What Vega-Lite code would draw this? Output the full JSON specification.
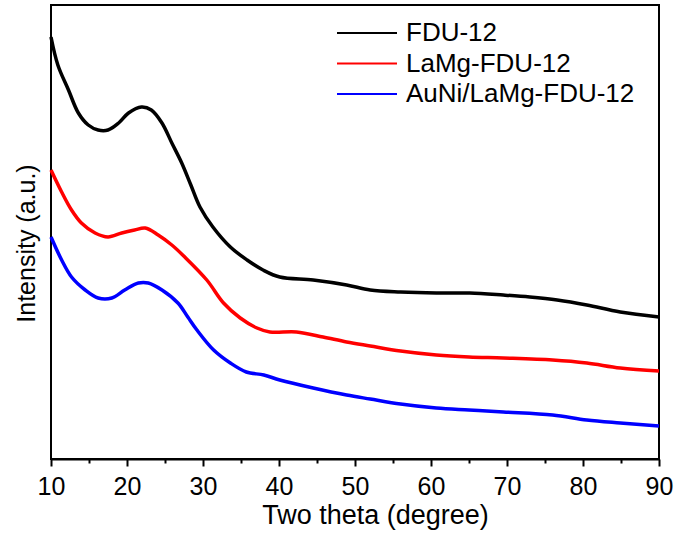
{
  "$schema": "https://vega.github.io/schema/vega-lite/v6.json",
  "width": 608,
  "height": 454,
  "autosize": {"type": "none"},
  "padding": {"left": 51, "top": 5, "right": 17, "bottom": 78},
  "background": "white",
  "config": {
    "view": {"stroke": "black", "strokeWidth": 2},
    "font": "Liberation Sans"
  },
  "data": {
    "values": [
      {"s": "FDU-12", "x": 10.0, "y": 422}, {"s": "FDU-12", "x": 10.9, "y": 394}, {"s": "FDU-12", "x": 12.3, "y": 369},
      {"s": "FDU-12", "x": 13.6, "y": 346}, {"s": "FDU-12", "x": 14.9, "y": 334}, {"s": "FDU-12", "x": 16.2, "y": 329},
      {"s": "FDU-12", "x": 17.5, "y": 329}, {"s": "FDU-12", "x": 18.9, "y": 336}, {"s": "FDU-12", "x": 20.2, "y": 346},
      {"s": "FDU-12", "x": 21.9, "y": 352}, {"s": "FDU-12", "x": 23.2, "y": 349}, {"s": "FDU-12", "x": 24.6, "y": 336},
      {"s": "FDU-12", "x": 25.9, "y": 316}, {"s": "FDU-12", "x": 27.2, "y": 296}, {"s": "FDU-12", "x": 28.4, "y": 274},
      {"s": "FDU-12", "x": 29.6, "y": 252}, {"s": "FDU-12", "x": 31.3, "y": 232}, {"s": "FDU-12", "x": 33.6, "y": 212},
      {"s": "FDU-12", "x": 35.8, "y": 199}, {"s": "FDU-12", "x": 37.9, "y": 189}, {"s": "FDU-12", "x": 40.1, "y": 182},
      {"s": "FDU-12", "x": 44.5, "y": 179}, {"s": "FDU-12", "x": 48.9, "y": 174}, {"s": "FDU-12", "x": 52.0, "y": 169},
      {"s": "FDU-12", "x": 56.0, "y": 167}, {"s": "FDU-12", "x": 60.7, "y": 166}, {"s": "FDU-12", "x": 65.1, "y": 166},
      {"s": "FDU-12", "x": 69.5, "y": 164}, {"s": "FDU-12", "x": 73.0, "y": 162}, {"s": "FDU-12", "x": 76.6, "y": 159},
      {"s": "FDU-12", "x": 80.5, "y": 154}, {"s": "FDU-12", "x": 84.9, "y": 147}, {"s": "FDU-12", "x": 90.0, "y": 142},

      {"s": "LaMg-FDU-12", "x": 10.0, "y": 289}, {"s": "LaMg-FDU-12", "x": 11.4, "y": 267}, {"s": "LaMg-FDU-12", "x": 12.7, "y": 249},
      {"s": "LaMg-FDU-12", "x": 14.0, "y": 236}, {"s": "LaMg-FDU-12", "x": 15.8, "y": 226}, {"s": "LaMg-FDU-12", "x": 17.5, "y": 222},
      {"s": "LaMg-FDU-12", "x": 19.3, "y": 226}, {"s": "LaMg-FDU-12", "x": 21.0, "y": 229}, {"s": "LaMg-FDU-12", "x": 22.4, "y": 231},
      {"s": "LaMg-FDU-12", "x": 24.1, "y": 224}, {"s": "LaMg-FDU-12", "x": 25.9, "y": 214}, {"s": "LaMg-FDU-12", "x": 27.6, "y": 202},
      {"s": "LaMg-FDU-12", "x": 30.5, "y": 179}, {"s": "LaMg-FDU-12", "x": 32.7, "y": 156}, {"s": "LaMg-FDU-12", "x": 34.9, "y": 141},
      {"s": "LaMg-FDU-12", "x": 37.1, "y": 131}, {"s": "LaMg-FDU-12", "x": 38.8, "y": 127}, {"s": "LaMg-FDU-12", "x": 42.3, "y": 127},
      {"s": "LaMg-FDU-12", "x": 45.8, "y": 122}, {"s": "LaMg-FDU-12", "x": 48.9, "y": 117}, {"s": "LaMg-FDU-12", "x": 52.0, "y": 113},
      {"s": "LaMg-FDU-12", "x": 56.0, "y": 108}, {"s": "LaMg-FDU-12", "x": 60.7, "y": 104}, {"s": "LaMg-FDU-12", "x": 65.0, "y": 102},
      {"s": "LaMg-FDU-12", "x": 69.5, "y": 101}, {"s": "LaMg-FDU-12", "x": 76.0, "y": 99}, {"s": "LaMg-FDU-12", "x": 80.5, "y": 96},
      {"s": "LaMg-FDU-12", "x": 84.9, "y": 91}, {"s": "LaMg-FDU-12", "x": 90.0, "y": 88},

      {"s": "AuNi/LaMg-FDU-12", "x": 10.0, "y": 222}, {"s": "AuNi/LaMg-FDU-12", "x": 11.4, "y": 199}, {"s": "AuNi/LaMg-FDU-12", "x": 12.7, "y": 182},
      {"s": "AuNi/LaMg-FDU-12", "x": 14.5, "y": 169}, {"s": "AuNi/LaMg-FDU-12", "x": 16.2, "y": 161}, {"s": "AuNi/LaMg-FDU-12", "x": 18.0, "y": 161},
      {"s": "AuNi/LaMg-FDU-12", "x": 19.7, "y": 169}, {"s": "AuNi/LaMg-FDU-12", "x": 21.5, "y": 176}, {"s": "AuNi/LaMg-FDU-12", "x": 22.8, "y": 176},
      {"s": "AuNi/LaMg-FDU-12", "x": 24.6, "y": 169}, {"s": "AuNi/LaMg-FDU-12", "x": 26.7, "y": 156}, {"s": "AuNi/LaMg-FDU-12", "x": 28.0, "y": 142},
      {"s": "AuNi/LaMg-FDU-12", "x": 29.2, "y": 129}, {"s": "AuNi/LaMg-FDU-12", "x": 31.4, "y": 109}, {"s": "AuNi/LaMg-FDU-12", "x": 33.6, "y": 96},
      {"s": "AuNi/LaMg-FDU-12", "x": 35.7, "y": 87}, {"s": "AuNi/LaMg-FDU-12", "x": 38.0, "y": 84}, {"s": "AuNi/LaMg-FDU-12", "x": 40.1, "y": 79},
      {"s": "AuNi/LaMg-FDU-12", "x": 44.5, "y": 71}, {"s": "AuNi/LaMg-FDU-12", "x": 48.9, "y": 64}, {"s": "AuNi/LaMg-FDU-12", "x": 52.0, "y": 60},
      {"s": "AuNi/LaMg-FDU-12", "x": 56.0, "y": 55}, {"s": "AuNi/LaMg-FDU-12", "x": 60.7, "y": 51}, {"s": "AuNi/LaMg-FDU-12", "x": 65.0, "y": 49},
      {"s": "AuNi/LaMg-FDU-12", "x": 69.5, "y": 47}, {"s": "AuNi/LaMg-FDU-12", "x": 76.0, "y": 44}, {"s": "AuNi/LaMg-FDU-12", "x": 80.5, "y": 39},
      {"s": "AuNi/LaMg-FDU-12", "x": 84.9, "y": 36}, {"s": "AuNi/LaMg-FDU-12", "x": 90.0, "y": 33}
    ]
  },
  "resolve": {"axis": {"x": "independent"}},
  "layer": [
    {
      "mark": {"type": "line", "strokeWidth": 3.5, "interpolate": "catmull-rom"},
      "encoding": {
        "x": {
          "field": "x", "type": "quantitative",
          "scale": {"domain": [10, 90], "nice": false, "zero": false},
          "axis": {
            "orient": "bottom",
            "title": "Two theta (degree)",
            "values": [10, 20, 30, 40, 50, 60, 70, 80, 90],
            "tickSize": 7, "tickWidth": 2, "tickColor": "black",
            "domainWidth": 2, "domainColor": "black",
            "grid": false,
            "labelFont": "Liberation Sans", "labelFontSize": 25, "labelColor": "black",
            "labelPadding": 8, "labelFlush": false, "labelOverlap": false,
            "titleFont": "Liberation Sans", "titleFontSize": 27, "titleFontWeight": "normal", "titleColor": "black",
            "titlePadding": 3, "titleX": 324, "titleAlign": "center"
          }
        },
        "y": {
          "field": "y", "type": "quantitative",
          "scale": {"domain": [0, 454], "nice": false, "zero": false},
          "axis": {
            "title": "Intensity (a.u.)",
            "labels": false, "ticks": false, "domain": false, "grid": false,
            "titleFont": "Liberation Sans", "titleFontSize": 25, "titleFontWeight": "normal", "titleColor": "black",
            "titlePadding": 12, "titleY": 238, "titleAlign": "center"
          }
        },
        "color": {
          "field": "s", "type": "nominal",
          "scale": {"domain": ["FDU-12", "LaMg-FDU-12", "AuNi/LaMg-FDU-12"], "range": ["#000000", "#ff0000", "#0000ff"]},
          "legend": {
            "title": null, "orient": "none", "legendX": 303, "legendY": 15,
            "symbolType": "M-3,0H3", "symbolSize": 400, "symbolStrokeWidth": 2,
            "labelFont": "Liberation Sans", "labelFontSize": 26, "labelColor": "black", "labelLimit": 500,
            "labelOffset": 26, "rowPadding": 4.5, "padding": 0
          }
        }
      }
    },
    {
      "mark": {"type": "line", "strokeOpacity": 0},
      "encoding": {
        "x": {
          "field": "x", "type": "quantitative",
          "axis": {
            "orient": "bottom",
            "title": null,
            "values": [15, 25, 35, 45, 55, 65, 75, 85],
            "labels": false, "domain": false, "grid": false,
            "tickSize": 4, "tickWidth": 2, "tickColor": "black"
          }
        },
        "y": {"field": "y", "type": "quantitative"},
        "detail": {"field": "s"}
      }
    }
  ]
}
